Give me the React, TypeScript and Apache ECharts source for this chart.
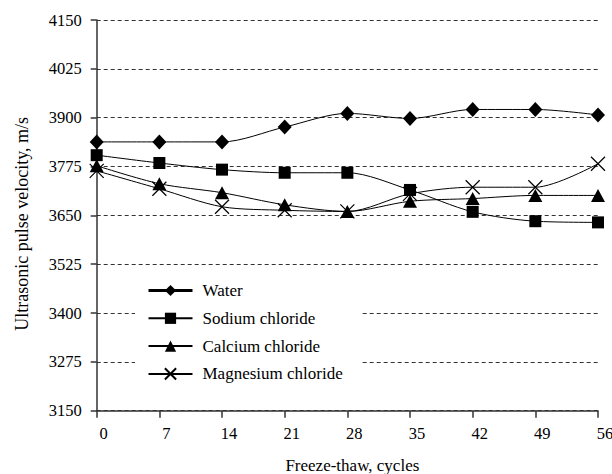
import React, { useEffect, useRef } from "react";
import * as echarts from "echarts";

const cycles = [0, 7, 14, 21, 28, 35, 42, 49, 56];
const water = [3838, 3838, 3838, 3876, 3911, 3898, 3921, 3921, 3907];
const sodium = [3804, 3784, 3767, 3759, 3759, 3715, 3659, 3635, 3632];
const calcium = [3777, 3731, 3708, 3677, 3660, 3686, 3693, 3701, 3701];
const magnesium = [3764, 3718, 3672, 3663, 3660, 3705, 3722, 3722, 3782];
const seriesNames = ["Water", "Sodium chloride", "Calcium chloride", "Magnesium chloride"];

const FONT = "Liberation Serif";
const X_PATH = "path://M0,0L10,10M10,0L0,10";

export default function App() {
  const ref = useRef<HTMLDivElement>(null);
  useEffect(() => {
    if (!ref.current) return;
    const chart = echarts.init(ref.current, undefined, { renderer: "svg" });
    const pair = (vals: number[]) => cycles.map((c, i) => [c, vals[i]]);
    const base = {
      type: "line",
      smooth: 0.3,
      lineStyle: { color: "#000", width: 1 },
      itemStyle: { color: "#000" },
      z: 3,
    };
    chart.setOption({
      animation: false,
      backgroundColor: "#fff",
      textStyle: { fontFamily: FONT },
      grid: {
        left: 96.7,
        right: 14,
        top: 20,
        bottom: 63.3,
        containLabel: false,
        outerBoundsMode: "none",
      },
      legend: {
        left: 135,
        top: 274,
        orient: "vertical",
        backgroundColor: "#fff",
        padding: [8, 19, 8, 12],
        itemWidth: 44,
        itemHeight: 14,
        itemGap: 10.8,
        textStyle: {
          fontFamily: FONT,
          fontSize: 17,
          color: "#000",
          lineHeight: 17,
          padding: [0, 0, 0, 5],
        },
        data: [
          { name: "Water", lineStyle: { width: 3 } },
          { name: "Sodium chloride" },
          { name: "Calcium chloride" },
          { name: "Magnesium chloride" },
        ],
        z: 10,
      },
      xAxis: {
        type: "value",
        min: 0,
        max: 56,
        interval: 7,
        name: "Freeze-thaw, cycles",
        nameLocation: "middle",
        nameGap: 46,
        nameTextStyle: {
          fontFamily: FONT,
          fontSize: 17,
          lineHeight: 17,
          color: "#000",
          padding: [0, 0, 0, 10],
        },
        axisLine: { show: true, lineStyle: { color: "#333", width: 1.5 } },
        axisTick: { show: true, length: 7, lineStyle: { color: "#333", width: 1.5 } },
        axisLabel: {
          fontFamily: FONT,
          fontSize: 16.5,
          color: "#000",
          margin: 14,
          padding: [0, 0, 0, 14],
          formatter: (v: number) => String(v),
        },
        splitLine: { show: false },
      },
      yAxis: {
        type: "value",
        min: 3150,
        max: 4150,
        interval: 125,
        name: "Ultrasonic pulse velocity, m/s",
        nameLocation: "middle",
        nameGap: 66,
        nameTextStyle: { fontFamily: FONT, fontSize: 18, color: "#000", padding: [0, 17, 0, 0] },
        axisLine: { show: true, lineStyle: { color: "#333", width: 1.5 } },
        axisTick: { show: true, length: 6, lineStyle: { color: "#333", width: 1.5 } },
        axisLabel: {
          fontFamily: FONT,
          fontSize: 16.5,
          color: "#000",
          margin: 15,
          formatter: (v: number) => String(v),
        },
        splitLine: { show: true, lineStyle: { color: "#333", type: [4, 3], width: 1 } },
      },
      series: [
        { ...base, name: seriesNames[0], data: pair(water), symbol: "diamond", symbolSize: [14, 15] },
        { ...base, name: seriesNames[1], data: pair(sodium), symbol: "rect", symbolSize: 12 },
        { ...base, name: seriesNames[2], data: pair(calcium), symbol: "triangle", symbolSize: [14, 13] },
        {
          ...base,
          name: seriesNames[3],
          data: pair(magnesium),
          symbol: X_PATH,
          symbolSize: 14,
          itemStyle: { color: "rgba(0,0,0,0)", borderColor: "#000", borderWidth: 1.2 },
        },
      ],
    });
    return () => chart.dispose();
  }, []);
  return (
    <div
      ref={ref}
      style={{ position: "absolute", left: 0, top: 0, width: 612, height: 474 }}
    />
  );
}
